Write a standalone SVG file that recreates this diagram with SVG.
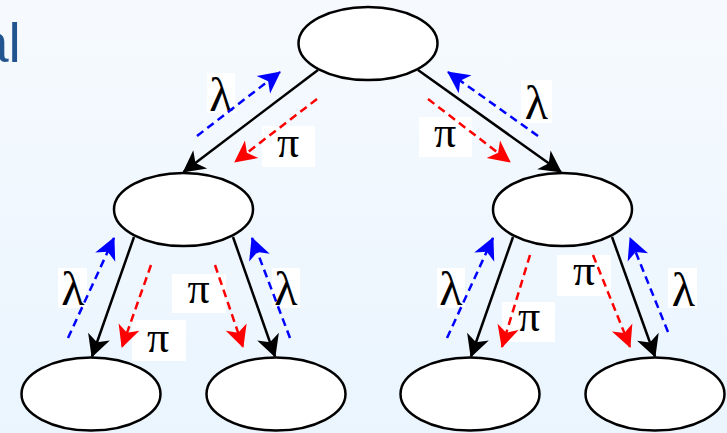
<svg xmlns="http://www.w3.org/2000/svg" width="727" height="433" viewBox="0 0 727 433">
<defs>
<linearGradient id="bg" x1="0" y1="0" x2="0" y2="1">
<stop offset="0" stop-color="#F6FAFE"/>
<stop offset="1" stop-color="#EAF5FE"/>
</linearGradient>
<marker id="ab" viewBox="-24 -13 26 26" refX="0" refY="0" markerWidth="26" markerHeight="26" markerUnits="userSpaceOnUse" orient="auto">
<path d="M1,0 L-21,-11.5 L-15,0 L-21,11.5 z" fill="#000"/>
</marker>
<marker id="au" viewBox="-24 -13 26 26" refX="0" refY="0" markerWidth="26" markerHeight="26" markerUnits="userSpaceOnUse" orient="auto">
<path d="M1,0 L-21,-11 L-15,0 L-21,11 z" fill="#0000FF"/>
</marker>
<marker id="ar" viewBox="-24 -13 26 26" refX="0" refY="0" markerWidth="26" markerHeight="26" markerUnits="userSpaceOnUse" orient="auto">
<path d="M1,0 L-21,-11 L-15,0 L-21,11 z" fill="#FF0000"/>
</marker>
</defs>
<style>
.node{fill:#fff;stroke:#000;stroke-width:2.5}
.edge{stroke:#000;stroke-width:2.5;fill:none;marker-end:url(#ab)}
.lam{stroke:#0000FF;stroke-width:2.5;stroke-dasharray:8 5;fill:none;marker-end:url(#au)}
.pi{stroke:#FF0000;stroke-width:2.5;stroke-dasharray:8 5;fill:none;marker-end:url(#ar)}
.box{fill:#fff}
.lt{font-family:"Liberation Serif","DejaVu Serif",serif;font-size:48px;fill:#000;text-anchor:middle}
.pt{font-family:"Liberation Serif","DejaVu Serif",serif;font-size:44px;fill:#000;text-anchor:middle}
</style>
<rect x="0" y="0" width="727" height="433" fill="url(#bg)"/>
<text x="-22" y="62" font-family="'Liberation Sans',Arial,sans-serif" font-size="55" fill="#20558F">al</text>

<g id="root"><ellipse class="node" cx="368" cy="43.5" rx="69.5" ry="36.5"/></g>
<g id="n-left"><ellipse class="node" cx="183.5" cy="209.5" rx="69.5" ry="36.5"/></g>
<g id="n-right"><ellipse class="node" cx="562.5" cy="209.5" rx="69.5" ry="36.5"/></g>
<g id="leaf1"><ellipse class="node" cx="91" cy="394" rx="69.5" ry="36.5"/></g>
<g id="leaf2"><ellipse class="node" cx="276" cy="394" rx="69.5" ry="36.5"/></g>
<g id="leaf3"><ellipse class="node" cx="470" cy="394" rx="69.5" ry="36.5"/></g>
<g id="leaf4"><ellipse class="node" cx="655" cy="394" rx="69.5" ry="36.5"/></g>

<g id="labels">
<rect class="box" x="207" y="73" width="28" height="40"/><text class="lt" x="221" y="111">λ</text>
<rect class="box" x="262" y="126" width="53" height="41"/><text class="pt" x="288" y="157">π</text>
<rect class="box" x="521" y="80" width="31" height="43"/><text class="lt" x="536.5" y="119">λ</text>
<rect class="box" x="419" y="117" width="53" height="40"/><text class="pt" x="445" y="147">π</text>
<rect class="box" x="58" y="268" width="29" height="40"/><text class="lt" x="73" y="305">λ</text>
<rect class="box" x="132" y="320" width="54" height="41"/><text class="pt" x="158" y="352">π</text>
<rect class="box" x="172" y="274" width="54" height="39"/><text class="pt" x="198.5" y="303">π</text>
<rect class="box" x="272" y="268" width="28" height="40"/><text class="lt" x="286" y="305">λ</text>
<rect class="box" x="437" y="268" width="28" height="40"/><text class="lt" x="451" y="305">λ</text>
<rect class="box" x="502" y="302" width="53" height="40"/><text class="pt" x="529" y="331">π</text>
<rect class="box" x="557" y="255" width="54" height="41"/><text class="pt" x="584" y="285">π</text>
<rect class="box" x="668" y="268" width="29" height="40"/><text class="lt" x="683.5" y="306">λ</text>
</g>

<g id="connectors">
<line class="edge" x1="318" y1="70" x2="183.5" y2="172"/>
<line class="edge" x1="418" y1="70" x2="561" y2="172"/>
<line class="edge" x1="134" y1="237" x2="92" y2="356.5"/>
<line class="edge" x1="233" y1="237" x2="275" y2="356.5"/>
<line class="edge" x1="513" y1="237" x2="471" y2="356.5"/>
<line class="edge" x1="612" y1="237" x2="655" y2="356.5"/>

<line class="lam" x1="197" y1="136" x2="280" y2="72"/>
<line class="lam" x1="538" y1="136" x2="448" y2="72"/>
<line class="lam" x1="68" y1="338" x2="114" y2="238"/>
<line class="lam" x1="290" y1="338" x2="252" y2="238"/>
<line class="lam" x1="447" y1="338" x2="493" y2="238"/>
<line class="lam" x1="668" y1="332" x2="630" y2="238"/>

<line class="pi" x1="317" y1="99" x2="235" y2="162"/>
<line class="pi" x1="428" y1="99" x2="510" y2="162"/>
<line class="pi" x1="151" y1="265" x2="122" y2="347"/>
<line class="pi" x1="215" y1="265" x2="243" y2="347"/>
<line class="pi" x1="530" y1="255" x2="502" y2="347"/>
<line class="pi" x1="593" y1="255" x2="630" y2="347"/>
</g>
</svg>
